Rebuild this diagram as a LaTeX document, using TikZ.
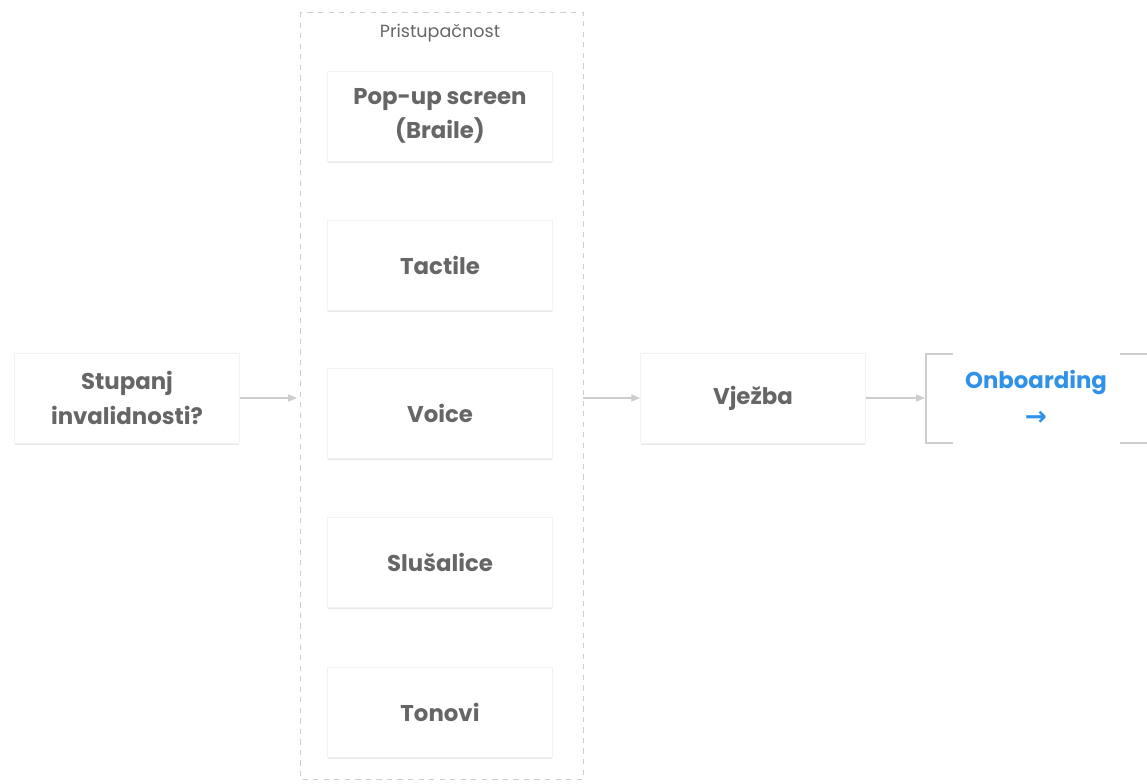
\documentclass[tikz,border=0pt]{standalone}
\usepackage{fontspec}
\setmainfont{Poppins}
\newfontfamily\arrowfont{DejaVu Sans}
\usepackage{tikz}
\usetikzlibrary{arrows.meta,positioning,shadows}
\definecolor{boxtext}{RGB}{102,102,102}
\definecolor{edgegray}{RGB}{205,205,205}
\definecolor{linkblue}{RGB}{47,146,232}

\begin{document}
\begin{tikzpicture}[x=0.02cm,y=-0.02cm,
    card/.style={draw=black!5, fill=white, minimum width=4.5cm, minimum height=1.8cm,
        align=center, font=\fontsize{13}{19.5}\selectfont\bfseries, text=boxtext,
        drop shadow={opacity=0.18, shadow xshift=0pt, shadow yshift=-0.9pt}},
    flow/.style={draw=edgegray, line width=0.6pt, -{Triangle[length=5pt,width=4pt]}}]
    \useasboundingbox (0,0) rectangle (1147,784);

    % Accessibility group
    \draw[edgegray, dashed, line width=0.5pt] (300,12) rectangle (583,779);
    \coordinate (grpL) at (297,398);
    \coordinate (grpR) at (583,398);
    \node[text=boxtext, font=\fontsize{10}{12}\selectfont] (grplabel) at (440,33) {Pristupačnost};

    \node[card] (popup) at (440,116) {Pop-up screen\\(Braile)};
    \node[card] (tactile) at (440,265) {Tactile};
    \node[card] (voice) at (440,413) {Voice};
    \node[card] (slusalice) at (440,562) {Slušalice};
    \node[card] (tonovi) at (440,712) {Tonovi};

    % Main flow
    \node[card] (stupanj) at (127,398) {Stupanj\\invalidnosti?};
    \node[card] (vjezba) at (753,398) {Vježba};

    % Onboarding (open bracket)
    \coordinate (onbL) at (925,398);
    \draw[edgegray, line width=0.6pt] (953,354) -- (926,354) -- (926,443) -- (953,443);
    \draw[edgegray, line width=0.6pt] (1120,354) -- (1147,354);
    \draw[edgegray, line width=0.6pt] (1120,443) -- (1147,443);
    \node[text=linkblue, font=\fontsize{13}{18}\selectfont\bfseries] (onboarding) at (1036,382) {Onboarding};
    \node[text=linkblue, font=\arrowfont\fontsize{15}{16}\selectfont\bfseries] (onbarrow) at (1036,418) {→};

    \draw[flow] (stupanj) -- (grpL);
    \draw[flow] (grpR) -- (vjezba);
    \draw[flow] (vjezba) -- (onbL);
\end{tikzpicture}
\end{document}
